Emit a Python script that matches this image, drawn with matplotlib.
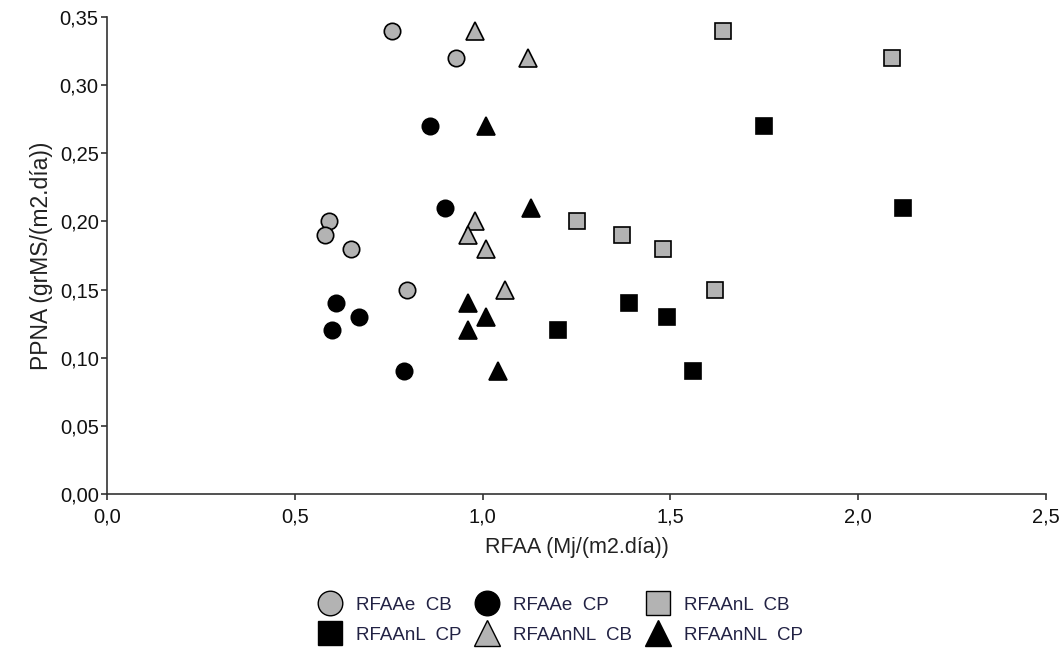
import matplotlib.pyplot as plt
from matplotlib.ticker import FuncFormatter, MultipleLocator
from matplotlib.lines import Line2D

plt.rcParams['font.family'] = ['Liberation Sans', 'DejaVu Sans']

# RFAA (Mj/(m2.dia)) and PPNA (grMS/(m2.dia)) per series
rfaae_cb_x = [0.76, 0.93, 0.59, 0.58, 0.65, 0.80]
rfaae_cb_y = [0.34, 0.32, 0.20, 0.19, 0.18, 0.15]
rfaae_cp_x = [0.86, 0.90, 0.61, 0.60, 0.67, 0.79]
rfaae_cp_y = [0.27, 0.21, 0.14, 0.12, 0.13, 0.09]
rfaanl_cb_x = [1.64, 2.09, 1.25, 1.37, 1.48, 1.62]
rfaanl_cb_y = [0.34, 0.32, 0.20, 0.19, 0.18, 0.15]
rfaanl_cp_x = [1.75, 2.12, 1.39, 1.20, 1.49, 1.56]
rfaanl_cp_y = [0.27, 0.21, 0.14, 0.12, 0.13, 0.09]
rfaannl_cb_x = [0.98, 1.12, 0.98, 0.96, 1.01, 1.06]
rfaannl_cb_y = [0.34, 0.32, 0.20, 0.19, 0.18, 0.15]
rfaannl_cp_x = [1.01, 1.13, 0.96, 1.01, 0.96, 1.04]
rfaannl_cp_y = [0.27, 0.21, 0.14, 0.13, 0.12, 0.09]

grey = '#b3b3b3'
series = [
    ('RFAAe  CB', rfaae_cb_x, rfaae_cb_y, 'o', grey),
    ('RFAAe  CP', rfaae_cp_x, rfaae_cp_y, 'o', 'black'),
    ('RFAAnL  CB', rfaanl_cb_x, rfaanl_cb_y, 's', grey),
    ('RFAAnL  CP', rfaanl_cp_x, rfaanl_cp_y, 's', 'black'),
    ('RFAAnNL  CB', rfaannl_cb_x, rfaannl_cb_y, '^', grey),
    ('RFAAnNL  CP', rfaannl_cp_x, rfaannl_cp_y, '^', 'black'),
]
sizes = {'o': 11.8, 's': 11.8, '^': 12.8}

fig = plt.figure(figsize=(10.62, 6.48), dpi=100)
ax = fig.add_axes([107 / 1062, 1 - 494 / 648, 939 / 1062, 477 / 648])

for name, xs, ys, mk, col in series:
    ax.plot(xs, ys, linestyle='none', marker=mk, markersize=sizes[mk],
            markerfacecolor=col, markeredgecolor='black', markeredgewidth=1.2,
            clip_on=False)

ax.set_xlim(0, 2.5)
ax.set_ylim(0, 0.35)
ax.xaxis.set_major_locator(MultipleLocator(0.5))
ax.yaxis.set_major_locator(MultipleLocator(0.05))
ax.xaxis.set_major_formatter(FuncFormatter(lambda v, p: f'{v:.1f}'.replace('.', ',')))
ax.yaxis.set_major_formatter(FuncFormatter(lambda v, p: f'{v:.2f}'.replace('.', ',')))

for s in ['top', 'right']:
    ax.spines[s].set_visible(False)
for s in ['left', 'bottom']:
    ax.spines[s].set_color('#333333')
    ax.spines[s].set_linewidth(1.2)
ax.tick_params(axis='both', colors='#333333', length=4, width=1.2,
               labelsize=14.5, labelcolor='#111111')
ax.tick_params(axis='x', pad=6)
ax.tick_params(axis='y', pad=2)

ax.set_xlabel('RFAA (Mj/(m2.día))', fontsize=15.5, color='#222222', labelpad=7)
ax.set_ylabel('PPNA (grMS/(m2.día))', fontsize=16.5, color='#222222', labelpad=5)

# legend: two rows, three columns, filled column by column
order = [0, 3, 1, 4, 2, 5]
handles = []
for i in order:
    name, xs, ys, mk, col = series[i]
    handles.append(Line2D([], [], linestyle='none', marker=mk,
                          markersize=sizes[mk] * 1.5, markerfacecolor=col,
                          markeredgecolor='black' if col == grey else col,
                          markeredgewidth=1.0, label=name))
fig.legend(handles=handles, loc='center', bbox_to_anchor=(559 / 1062, 1 - 620 / 648),
           ncol=3, frameon=False, fontsize=13.5, handletextpad=0.6,
           columnspacing=0.55, labelspacing=0.68, handlelength=1.6,
           borderpad=0.1, labelcolor='#222244')

fig.savefig('out.png', dpi=100)
